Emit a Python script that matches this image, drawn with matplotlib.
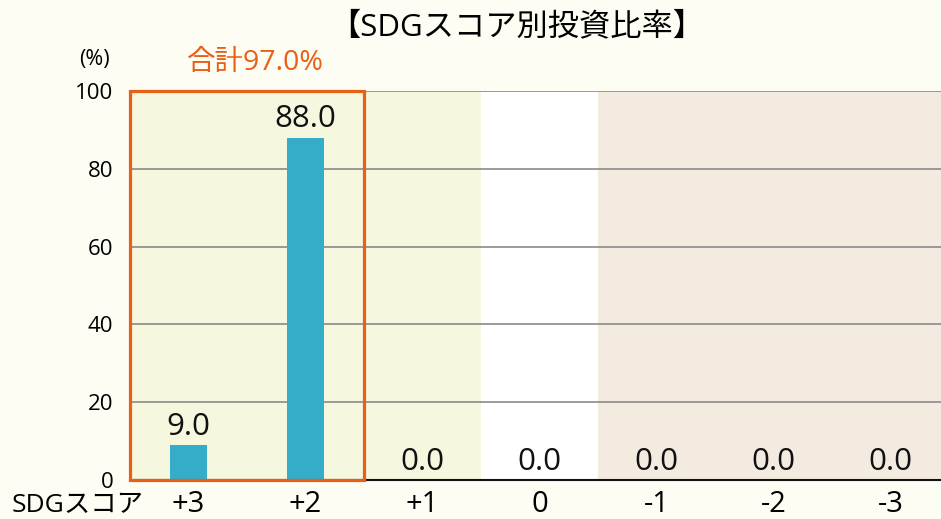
import matplotlib
matplotlib.use("Agg")
import matplotlib.pyplot as plt
from matplotlib.patches import Rectangle

plt.rcParams["font.family"] = ["Noto Sans CJK JP", "DejaVu Sans"]
LATIN = "Open Sans"

scores = ["+3", "+2", "+1", "0", "-1", "-2", "-3"]
ratios = [9.0, 88.0, 0.0, 0.0, 0.0, 0.0, 0.0]
y_ticks = [0, 20, 40, 60, 80, 100]
title = "【SDGスコア別投資比率】"
total_label = "合計97.0%"

W, H = 941, 519
fig = plt.figure(figsize=(W / 100, H / 100), dpi=100)
fig.patch.set_facecolor("#fdfdf3")

ax = fig.add_axes([130 / W, 1 - 480 / H, (W - 130) / W, (480 - 91) / H])
ax.set_facecolor("#fdfdf3")
xs = list(range(len(scores)))

# background bands: positive / zero / negative
ax.axvspan(-0.5, 2.5, color="#f5f7df", zorder=0, lw=0)
ax.axvspan(2.5, 3.5, color="white", zorder=0, lw=0)
ax.axvspan(3.5, 6.5, color="#f4ebe0", zorder=0, lw=0)

for t in y_ticks[1:]:
    ax.axhline(t, color="#8a8a8a", lw=1.2, zorder=1)

ax.bar(xs, ratios, width=0.316, color="#35adc8", zorder=2)
for x, v in zip(xs, ratios):
    ax.annotate(f"{v:.1f}", (x, v), xytext=(0, 7.5), textcoords="offset points",
                ha="center", va="baseline", fontsize=22.5, color="#111111",
                family=LATIN)

ax.set_xlim(-0.5, 6.43)
ax.set_ylim(0, 100)
ax.set_xticks(xs)
ax.set_xticklabels(scores, fontsize=21, family=LATIN)
ax.set_yticks(y_ticks)
ax.set_yticklabels([str(t) for t in y_ticks], fontsize=16, family=LATIN)
ax.tick_params(length=0)
ax.tick_params(axis="x", pad=7)
ax.tick_params(axis="y", pad=12)
for side in ["top", "right", "left"]:
    ax.spines[side].set_visible(False)
ax.spines["bottom"].set_color("#111111")
ax.spines["bottom"].set_linewidth(1.5)
ax.spines["bottom"].set_zorder(3)

# highlight box around +3 and +2
ax.add_patch(Rectangle((-0.5, 0), 2, 100, fill=False, edgecolor="#ea5f16",
                       lw=2.3, zorder=4, clip_on=False))
ax.text(0.57, 103.5, total_label, ha="center", va="bottom", fontsize=20.5,
        color="#ea5f16", family=[LATIN, "Noto Sans CJK JP"])

fig.text(517 / W, 1 - 27 / H, title, ha="center", va="center", fontsize=22.5,
         family=[LATIN, "Noto Sans CJK JP"])
fig.text(94 / W, 1 - 60 / H, "(%)", ha="center", va="center", fontsize=15.5,
         family=LATIN)
fig.text(12 / W, 1 - 512 / H, "SDGスコア", ha="left", va="baseline", fontsize=19,
         family=[LATIN, "Noto Sans CJK JP"])

fig.savefig("out.png", dpi=100, facecolor=fig.get_facecolor())
